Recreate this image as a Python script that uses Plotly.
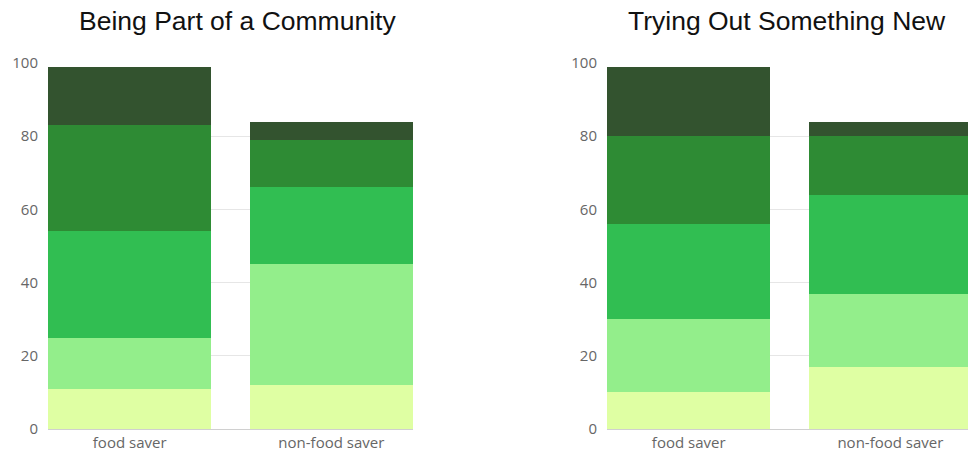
import plotly.graph_objects as go

categories = ["food saver", "non-food saver"]
titles = ["Being Part of a Community", "Trying Out Something New"]
series_names = ["Level 1", "Level 2", "Level 3", "Level 4", "Level 5"]
colors = ["#dfffa3", "#93ee8b", "#31be52", "#2e8b34", "#33532f"]

community = [
    [11, 12],
    [14, 33],
    [29, 21],
    [29, 13],
    [16, 5],
]
new_things = [
    [10, 17],
    [20, 20],
    [26, 27],
    [24, 16],
    [19, 4],
]
y_ticks = [0, 20, 40, 60, 80, 100]

fig = go.Figure()
for panel, data in enumerate([community, new_things]):
    xa = "x" if panel == 0 else "x2"
    ya = "y" if panel == 0 else "y2"
    for name, vals, col in zip(series_names, data, colors):
        fig.add_trace(go.Bar(x=categories, y=vals, name=name, marker_color=col,
                             marker_line_width=0, xaxis=xa, yaxis=ya,
                             showlegend=False))

W, H = 968, 452
ml, mr, mt, mb = 48, 0, 63, 23
pw = W - ml - mr
ph = H - mt - mb
unit = 201.7
left_w = 365
right_start = 607 - ml

tickfont = dict(family="Open Sans", size=15, color="#666666")
axis_common = dict(showgrid=False, showline=True, linecolor="#d0d0d0", linewidth=1,
                   ticks="", tickfont=tickfont, zeroline=False, fixedrange=True,
                   ticklabelstandoff=0)
yaxis_common = dict(range=[0, 100], tickvals=y_ticks, showgrid=True, gridcolor="#e6e6e6",
                    gridwidth=1, zeroline=False, showline=False, ticks="",
                    tickfont=tickfont, ticklabelstandoff=9)

fig.update_layout(
    width=W, height=H,
    margin=dict(l=ml, r=mr, t=mt, b=mb, autoexpand=False),
    barmode="stack", bargap=0.19,
    plot_bgcolor="white", paper_bgcolor="white",
    xaxis=dict(domain=[0, left_w / pw], range=[-0.405, 1.405], anchor="y", **axis_common),
    xaxis2=dict(domain=[right_start / pw, 1], range=[-0.405, -0.405 + (pw - right_start) / unit],
                anchor="y2", **axis_common),
    yaxis=dict(anchor="x", **yaxis_common),
    yaxis2=dict(anchor="x2", **yaxis_common),
)

title_centers = [237, 787]
for t, cx in zip(titles, title_centers):
    fig.add_annotation(text=t, xref="paper", yref="paper", x=(cx - ml) / pw,
                       y=1 + (mt - 21) / ph, xanchor="center", yanchor="middle",
                       showarrow=False,
                       font=dict(family="Liberation Sans, Arial", size=26.5, color="#111111"))

fig.write_html("out.html")
